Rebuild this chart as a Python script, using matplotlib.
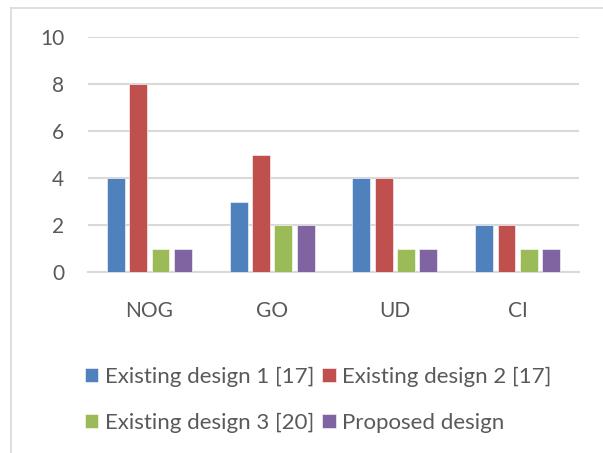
import matplotlib
matplotlib.use("Agg")
import matplotlib.pyplot as plt
import numpy as np
from matplotlib.lines import Line2D

categories = ["NOG", "GO", "UD", "CI"]
series_names = ["Existing design 1 [17]", "Existing design 2 [17]",
                "Existing design 3 [20]", "Proposed design"]
design1 = [4, 3, 4, 2]
design2 = [8, 5, 4, 2]
design3 = [1, 2, 1, 1]
proposed = [1, 2, 1, 1]
yticks = [0, 2, 4, 6, 8, 10]

colors = ["#4F81BD", "#C0504D", "#9BBB59", "#8064A2"]
text_color = "#595959"
grid_color = "#D9D9D9"

plt.rcParams['font.family'] = ['Lato', 'DejaVu Sans']

W, H = 603, 453
fig = plt.figure(figsize=(W / 100, H / 100), dpi=100)
ax = fig.add_axes([88 / W, 1 - 272 / H, (579 - 88) / W, (272 - 37) / H])

x = np.arange(len(categories))
pitch = 0.182
width = 0.145
handles = []
for i, (vals, name) in enumerate(zip([design1, design2, design3, proposed], series_names)):
    b = ax.bar(x + (i - 1.5) * pitch, vals, width, color=colors[i], label=name,
               edgecolor="white", linewidth=0.4, zorder=3)
    handles.append(b)

ax.set_xlim(-0.5, len(categories) - 0.5)
ax.set_ylim(0, 10)
ax.set_yticks(yticks)
ax.set_xticks(x)
ax.set_xticklabels(categories)
ax.yaxis.grid(True, color=grid_color, linewidth=1.5, zorder=0)
for s in ["top", "right", "left"]:
    ax.spines[s].set_visible(False)
ax.spines["bottom"].set_color(grid_color)
ax.spines["bottom"].set_linewidth(1.5)
ax.tick_params(axis="both", length=0, labelsize=15, colors=text_color)
ax.tick_params(axis="y", pad=17)
ax.tick_params(axis="x", pad=21)

fs = 16
# order so that column-major filling gives row-major reading order
order = [0, 2, 1, 3]
fig.legend([handles[k] for k in order], [series_names[k] for k in order],
           loc="upper left", bbox_to_anchor=(85 / W, 1 - 367 / H), ncol=2,
           frameon=False, fontsize=fs, labelcolor=text_color,
           handlelength=0.6, handleheight=0.6, handletextpad=0.3,
           columnspacing=0.36, labelspacing=1.15, borderpad=0, borderaxespad=0)

# outer chart border (light grey)
fig.add_artist(Line2D([11 / W, 11 / W], [0, 1 - 8 / H], color="#D9D9D9", linewidth=1.2,
                      transform=fig.transFigure))
fig.add_artist(Line2D([11 / W, 1], [1 - 8 / H, 1 - 8 / H], color="#D9D9D9", linewidth=1.2,
                      transform=fig.transFigure))

fig.savefig("out.png", dpi=100, facecolor="white")
